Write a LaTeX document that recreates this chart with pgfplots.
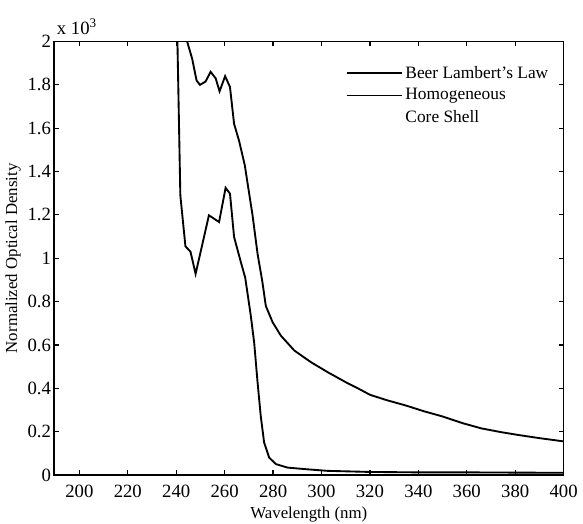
\documentclass[border=0pt]{standalone}
\usepackage{fontspec}
\setmainfont{Liberation Serif}
\usepackage{pgfplots}
\pgfplotsset{compat=1.18}
\begin{document}
\fontsize{12}{14}\selectfont
\begin{tikzpicture}
\begin{axis}[
  scale only axis,
  width=381.3pt, height=324.3pt,
  xmin=189.5, xmax=400, ymin=0, ymax=2,
  xtick={200,220,...,400},
  ytick={0,0.2,...,2.01},
  tick align=inside,
  major tick length=3.5pt,
  axis line style={line width=1.1pt},
  tick style={line width=0.9pt,black},
  /pgf/number format/assume math mode=true,
  xticklabel style={font=\fontsize{14}{16}\selectfont, yshift=-3pt},
  yticklabel style={font=\fontsize{14}{16}\selectfont, xshift=2pt},
  xlabel={Wavelength (nm)},
  ylabel={Normalized Optical Density},
  xlabel style={font=\fontsize{12.6}{14}\selectfont, yshift=-2pt, inner sep=1pt},
  ylabel style={font=\fontsize{12.6}{14}\selectfont, yshift=-3pt},
  legend style={draw=none, fill=none, at={(rel axis cs:0.572,0.95)}, anchor=north west,
    font=\fontsize{13}{15}\selectfont, row sep=2pt, inner sep=0pt},
  legend cell align=left,
  legend image code/.code={\draw[#1] (0cm,0cm) -- (1.45cm,0cm);},
  clip mode=individual,
]
\addplot[black, line width=1.4pt] coordinates {
(243.8,2.2) (244.5,2.0) (246.6,1.92) (248.4,1.82) (249.8,1.80) (252.1,1.815)
(254.2,1.86) (256.3,1.83) (257.9,1.77) (260.2,1.84) (262.2,1.79) (263.9,1.62)
(266.0,1.54) (268.3,1.43) (271.5,1.20) (273.6,1.02) (275.6,0.89) (277.0,0.78)
(279.8,0.705) (283.2,0.643) (288.8,0.574) (295.7,0.52) (302.6,0.474) (310.2,0.427)
(315,0.40) (320,0.37) (327,0.345) (335,0.32) (342,0.295) (350,0.27) (358,0.24)
(366,0.215) (374,0.198) (381,0.185) (390,0.17) (400,0.155)
};
\addlegendentry{Beer Lambert's Law}
\addplot[black, line width=1.4pt] coordinates {
(240.3,2.2) (240.5,2.0) (241.7,1.29) (243.8,1.055) (245.9,1.03) (248.0,0.928)
(250.5,1.05) (253.5,1.198) (257.7,1.167) (260.4,1.325) (262.2,1.298) (263.9,1.098)
(266.5,0.99) (268.5,0.91) (270.8,0.735) (272.2,0.61) (273.6,0.427) (274.9,0.273)
(276.3,0.15) (278.4,0.08) (281.2,0.05) (286,0.034) (294.3,0.026) (302.6,0.019)
(320,0.014) (340,0.012) (360,0.012) (380,0.011) (400,0.01)
};
\addlegendentry{Homogeneous}
\addlegendimage{legend image code/.code={}}
\addlegendentry{Core Shell}
\node[anchor=south west, inner sep=0pt, font=\fontsize{14}{16}\selectfont] at (rel axis cs:0,1) [xshift=2pt, yshift=5pt] {x 10$^{\mathrm{3}}$};
\end{axis}
\path (current bounding box.north) ++(0,14pt);
\end{tikzpicture}
\end{document}
